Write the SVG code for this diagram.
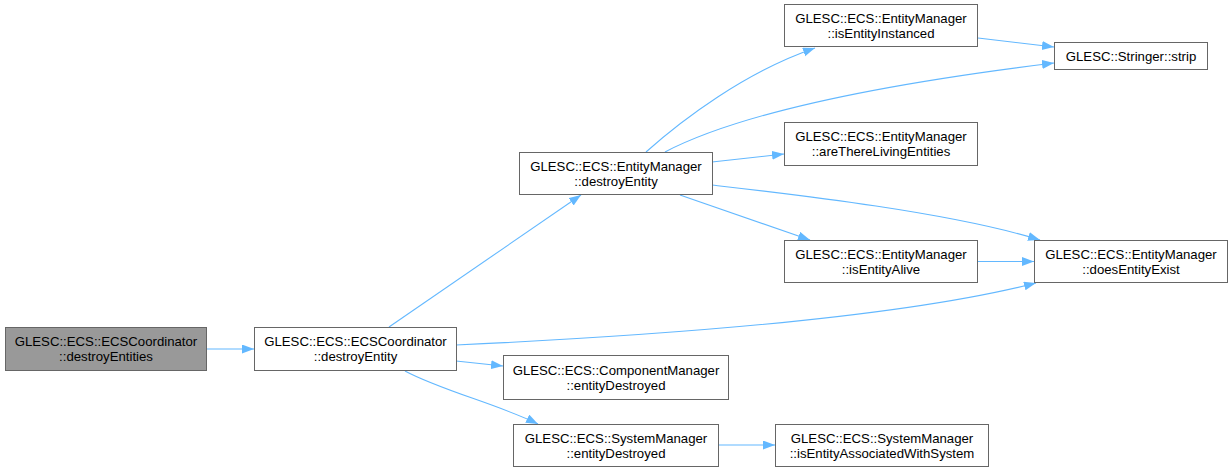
<svg xmlns="http://www.w3.org/2000/svg" width="1232" height="472" viewBox="0 0 1232 472">
<defs>
<marker id="ah" markerUnits="userSpaceOnUse" markerWidth="13" markerHeight="10" refX="12" refY="4.5" orient="auto">
<path d="M0,0 L12,4.5 L0,9 z" fill="#63b8ff"/>
</marker>
<style>
.n rect{fill:#ffffff;stroke:#666666;stroke-width:1}
.n.root rect{fill:#999999}
.n text{font-family:"Liberation Sans",Arial,sans-serif;font-size:13.2px;fill:#000000;text-anchor:middle}
.e path{fill:none;stroke:#63b8ff;stroke-width:1.1;marker-end:url(#ah)}
</style>
</defs>
<rect width="1232" height="472" fill="#ffffff"/>
<g id="edges" class="e">
<path d="M206,349 L254,349"/>
<path d="M389,327 L581,195"/>
<path d="M456,345 C650,336 900,318 1036,283"/>
<path d="M456,361 L503,366"/>
<path d="M405,371 C440,390 500,405 538,424"/>
<path d="M718,445 L775,445"/>
<path d="M646,152 C682,120 745,72 815,48"/>
<path d="M665,152 C730,118 850,88 1054,63"/>
<path d="M712,162 L784,154"/>
<path d="M712,185 C790,194 950,212 1040,240"/>
<path d="M680,195 L810,240"/>
<path d="M978,38 L1054,47"/>
<path d="M978,261.5 L1034,261.5"/>
</g>
<g id="n_destroyEntities" class="n root">
<rect x="5.5" y="327.5" width="201" height="43"/>
<text x="106" y="346">GLESC::ECS::ECSCoordinator</text>
<text x="106" y="361">::destroyEntities</text>
</g>
<g id="n_coord_destroyEntity" class="n">
<rect x="254.5" y="327.5" width="202" height="43"/>
<text x="355.5" y="346">GLESC::ECS::ECSCoordinator</text>
<text x="355.5" y="361">::destroyEntity</text>
</g>
<g id="n_em_destroyEntity" class="n">
<rect x="519.5" y="152.5" width="193" height="42"/>
<text x="616" y="170.5">GLESC::ECS::EntityManager</text>
<text x="616" y="185.5">::destroyEntity</text>
</g>
<g id="n_isEntityInstanced" class="n">
<rect x="784.5" y="4.5" width="193" height="42"/>
<text x="881" y="22.5">GLESC::ECS::EntityManager</text>
<text x="881" y="37.5">::isEntityInstanced</text>
</g>
<g id="n_strip" class="n">
<rect x="1054.5" y="42.5" width="153" height="27"/>
<text x="1131" y="60.5">GLESC::Stringer::strip</text>
</g>
<g id="n_areThereLivingEntities" class="n">
<rect x="784.5" y="122.5" width="193" height="43"/>
<text x="881" y="141">GLESC::ECS::EntityManager</text>
<text x="881" y="156">::areThereLivingEntities</text>
</g>
<g id="n_isEntityAlive" class="n">
<rect x="784.5" y="240.5" width="193" height="42"/>
<text x="881" y="258.5">GLESC::ECS::EntityManager</text>
<text x="881" y="273.5">::isEntityAlive</text>
</g>
<g id="n_doesEntityExist" class="n">
<rect x="1034.5" y="240.5" width="193" height="42"/>
<text x="1131" y="258.5">GLESC::ECS::EntityManager</text>
<text x="1131" y="273.5">::doesEntityExist</text>
</g>
<g id="n_cm_entityDestroyed" class="n">
<rect x="503.5" y="355.5" width="225" height="44"/>
<text x="616" y="374.5">GLESC::ECS::ComponentManager</text>
<text x="616" y="389.5">::entityDestroyed</text>
</g>
<g id="n_sm_entityDestroyed" class="n">
<rect x="513.5" y="424.5" width="205" height="42"/>
<text x="616" y="442.5">GLESC::ECS::SystemManager</text>
<text x="616" y="457.5">::entityDestroyed</text>
</g>
<g id="n_isEntityAssociatedWithSystem" class="n">
<rect x="775.5" y="424.5" width="213" height="42"/>
<text x="882" y="442.5">GLESC::ECS::SystemManager</text>
<text x="882" y="457.5">::isEntityAssociatedWithSystem</text>
</g>
</svg>
